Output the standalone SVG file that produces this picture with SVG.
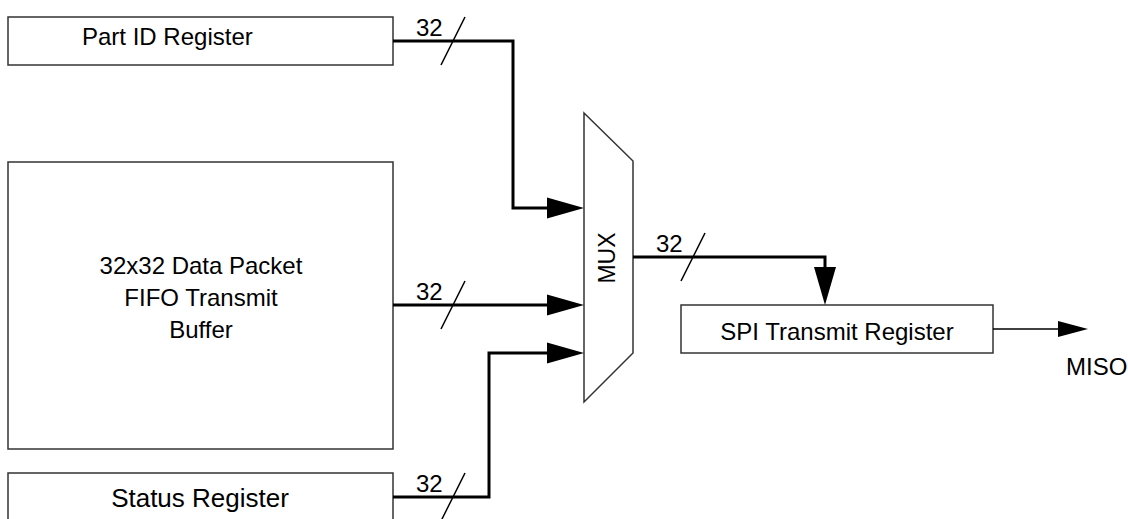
<svg xmlns="http://www.w3.org/2000/svg" width="1128" height="519" viewBox="0 0 1128 519">
<style>
.box{fill:#fff;stroke:#333;stroke-width:1.5}
.t{font-family:"Liberation Sans",Arial,sans-serif;font-size:24px;fill:#000}
.bus{fill:none;stroke:#000;stroke-width:3}
.thin{fill:none;stroke:#000;stroke-width:1.5}
.ah{fill:#000;stroke:none}
</style>
<rect width="1128" height="519" fill="#fff"/>
<g id="part-id">
<rect class="box" x="8" y="17" width="385" height="48"/>
<text class="t" x="82" y="45">Part ID Register</text>
</g>
<g id="fifo">
<rect class="box" x="8" y="162" width="385" height="287"/>
<text class="t" x="201" y="274" text-anchor="middle">32x32 Data Packet</text>
<text class="t" x="201" y="306" text-anchor="middle">FIFO Transmit</text>
<text class="t" x="201" y="338" text-anchor="middle">Buffer</text>
</g>
<g id="status">
<rect class="box" x="8" y="473" width="385" height="60"/>
<text class="t" x="200" y="507" text-anchor="middle" style="font-size:26px">Status Register</text>
</g>
<g id="mux">
<polygon class="box" points="584,113 633,161 633,353 584,402"/>
<text class="t" transform="translate(615,258) rotate(-90)" text-anchor="middle" style="font-size:23px">MUX</text>
</g>
<g id="spi">
<rect class="box" x="681" y="305" width="312" height="48"/>
<text class="t" x="837" y="340" text-anchor="middle">SPI Transmit Register</text>
</g>
<g id="miso">
<text class="t" x="1066" y="375">MISO</text>
</g>
<g id="connectors">
<polyline class="bus" points="393,41 513,41 513,208 550,208"/>
<polygon class="ah" points="547,197.5 584,208 547,218.5"/>
<text class="t" x="416" y="36">32</text>
<line class="thin" x1="465" y1="17" x2="441" y2="65"/>

<polyline class="bus" points="393,305 550,305"/>
<polygon class="ah" points="547,294.5 584,305 547,315.5"/>
<text class="t" x="416" y="300">32</text>
<line class="thin" x1="465" y1="281" x2="441" y2="329"/>

<polyline class="bus" points="393,497 489,497 489,353 550,353"/>
<polygon class="ah" points="547,342.5 584,353 547,363.5"/>
<text class="t" x="416" y="492">32</text>
<line class="thin" x1="465" y1="473" x2="441" y2="521"/>

<polyline class="bus" points="633,257 825,257 825,270"/>
<polygon class="ah" points="814,267 836,267 825,305"/>
<text class="t" x="656" y="252">32</text>
<line class="thin" x1="705" y1="233" x2="681" y2="281"/>

<line class="thin" x1="993" y1="329" x2="1060" y2="329"/>
<polygon class="ah" points="1058,321 1088,329 1058,337"/>
</g>
</svg>
